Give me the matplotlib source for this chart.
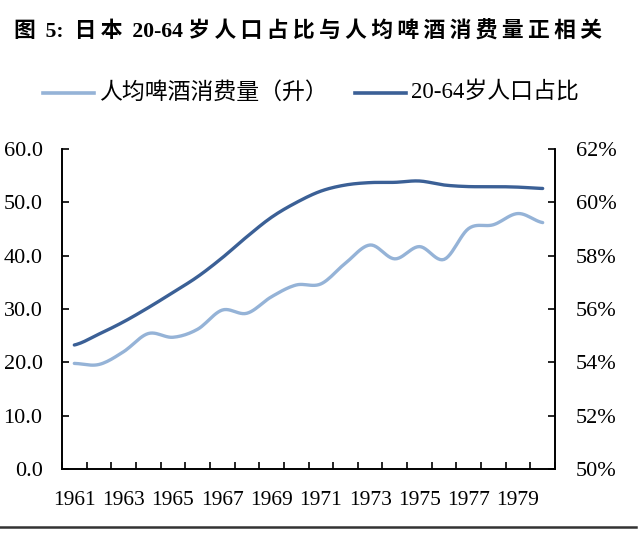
import matplotlib
matplotlib.use("Agg")
import matplotlib.pyplot as plt
import numpy as np
from matplotlib.ticker import FuncFormatter

plt.rcParams['font.family'] = ['Liberation Serif', 'Noto Sans CJK SC']

years = list(range(1961, 1981))
beer = [19.8, 19.6, 22.0, 25.4, 24.7, 26.2, 29.8, 29.2, 32.3, 34.5,
        34.7, 38.6, 42.0, 39.4, 41.7, 39.3, 45.1, 45.8, 47.9, 46.2]
pop_share = [54.65, 55.06, 55.52, 56.05, 56.62, 57.21, 57.92, 58.71, 59.44, 59.99,
             60.42, 60.65, 60.74, 60.75, 60.80, 60.65, 60.59, 60.59, 60.57, 60.52]
left_ticks = [0, 10, 20, 30, 40, 50, 60]
right_ticks = [50, 52, 54, 56, 58, 60, 62]
labels = ['人均啤酒消费量（升）', '20-64岁人口占比']
title = '图 5:  日本 20-64 岁人口占比与人均啤酒消费量正相关'

LIGHT = '#95b3d7'
DARK = '#3b6096'


def smooth(x, y, n=12):
    # catmull-rom style curve just for drawing, like excel's smoothed line
    x = np.asarray(x, float)
    y = np.asarray(y, float)
    xs, ys = [], []
    for i in range(len(x) - 1):
        y0 = y[i - 1] if i > 0 else y[i]
        y3 = y[i + 2] if i + 2 < len(y) else y[i + 1]
        m1 = (y[i + 1] - y0) / 2
        m2 = (y3 - y[i]) / 2
        t = np.linspace(0, 1, n, endpoint=False)
        h00 = 2 * t**3 - 3 * t**2 + 1
        h10 = t**3 - 2 * t**2 + t
        h01 = -2 * t**3 + 3 * t**2
        h11 = t**3 - t**2
        xs.extend(x[i] + t * (x[i + 1] - x[i]))
        ys.extend(h00 * y[i] + h10 * m1 + h01 * y[i + 1] + h11 * m2)
    xs.append(x[-1])
    ys.append(y[-1])
    return np.array(xs), np.array(ys)


def spaced(s):
    # thin space after each CJK char, the source title is letter-spaced
    out = ''
    for ch in s:
        out += ch
        if ord(ch) > 0x2e80:
            out += '\u2009'
    return out


W, H = 641, 534
fig = plt.figure(figsize=(W / 100, H / 100), dpi=100)
ax = fig.add_axes([62 / W, 1 - 469 / H, (555 - 62) / W, (469 - 149) / H])
ax2 = ax.twinx()

pos = np.arange(len(years))
sx, sy = smooth(pos, beer)
ax.plot(sx, sy, color=LIGHT, lw=2.4, solid_capstyle='round')
sx, sy = smooth(pos, pop_share)
ax2.plot(sx, sy, color=DARK, lw=2.4, solid_capstyle='round')

ax.set_xlim(-0.5, len(years) - 0.5)
ax.set_ylim(0, 60)
ax2.set_ylim(50, 62)
ax.set_yticks(left_ticks)
ax2.set_yticks(right_ticks)
ax.yaxis.set_major_formatter(FuncFormatter(lambda v, p: f'{v:.1f}'))
ax2.yaxis.set_major_formatter(FuncFormatter(lambda v, p: f'{v:.0f}%'))

ax.set_xticks(np.arange(-0.5, len(years), 1))
ax.set_xticklabels([])
ax.set_xticks(pos[::2], minor=True)
ax.set_xticklabels([str(y) for y in years[::2]], minor=True)
ax.tick_params(axis='x', which='major', direction='in', length=5, width=1.2)
ax.tick_params(axis='x', which='minor', length=0, pad=16, labelsize=15.5)
ax.tick_params(axis='y', direction='in', length=5, width=1.2, labelsize=16, pad=14)
ax2.tick_params(axis='y', direction='in', length=5, width=1.2, labelsize=16, pad=15)

for a in (ax, ax2):
    a.spines['top'].set_visible(False)
    for s in ('left', 'right', 'bottom'):
        a.spines[s].set_linewidth(1.2)

fig.text(14 / W, 1 - 32 / H, spaced(title).rstrip('\u2009'),
         fontsize=15.7, fontweight='bold', va='center', ha='left')

# legend drawn by hand to sit where the reference has it
ly = 1 - 93 / H
for x0, col, lab in ((43, LIGHT, labels[0]), (355, DARK, labels[1])):
    fig.add_artist(plt.Line2D([x0 / W, (x0 + 51) / W], [ly, ly], color=col, lw=2.6,
                              transform=fig.transFigure))
    fig.text((x0 + 56) / W, ly, lab, fontsize=16.5, va='center', ha='left')

fig.add_artist(plt.Line2D([0.0, 636 / W], [1 - 527 / H, 1 - 527 / H], color='#333333',
                          lw=1.8, transform=fig.transFigure))

fig.savefig('out.png', dpi=100)
